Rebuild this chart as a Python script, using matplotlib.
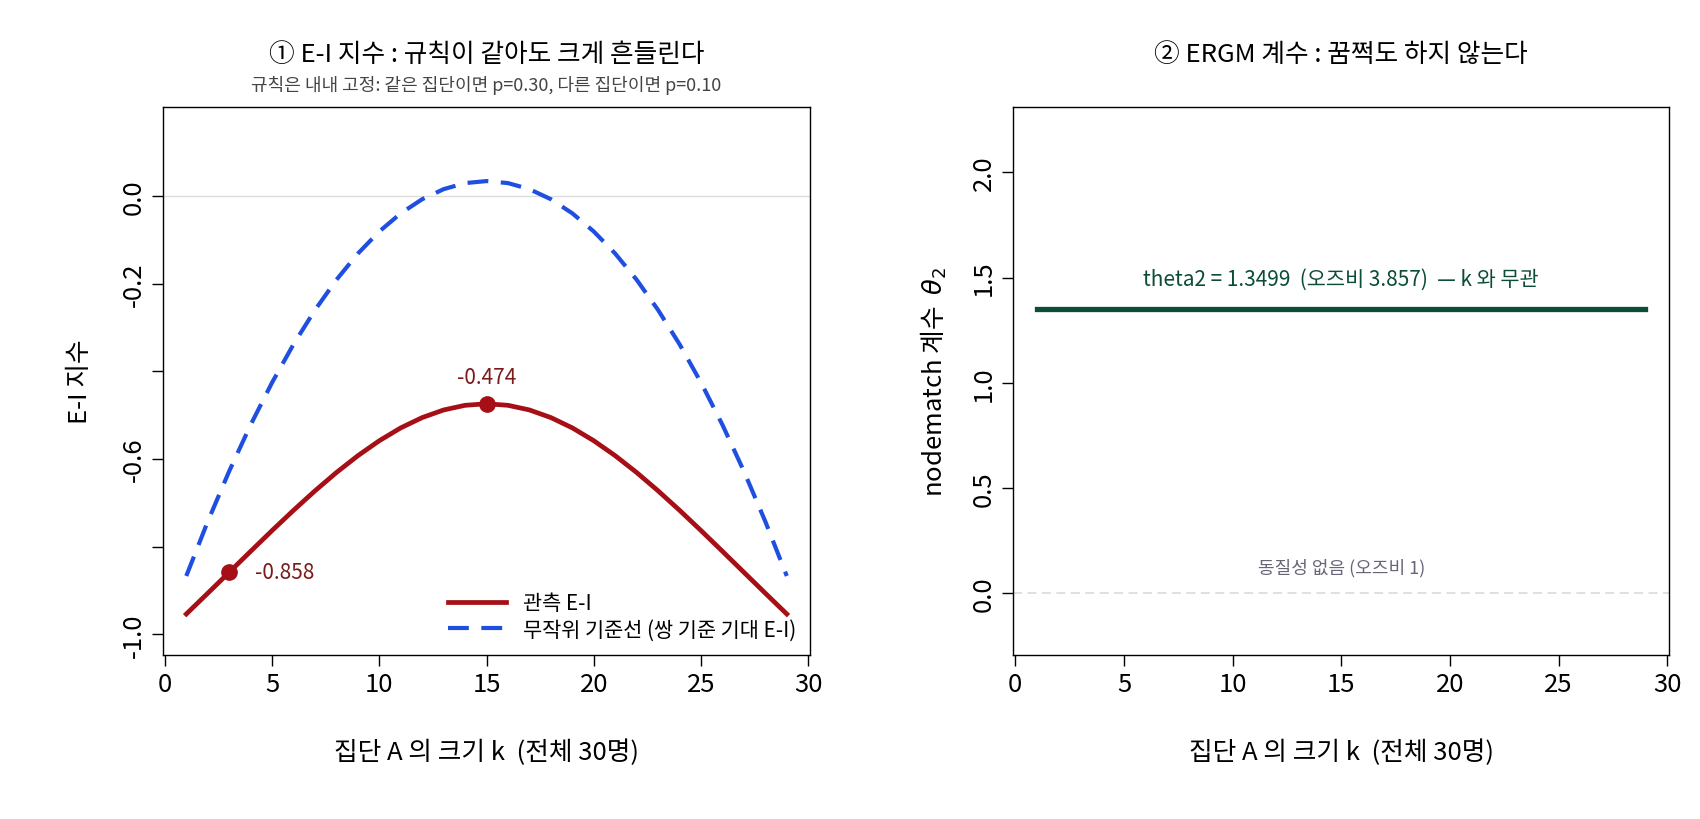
import matplotlib
matplotlib.use("Agg")
import matplotlib.pyplot as plt

plt.rcParams['font.family'] = ['Noto Sans CJK KR', 'DejaVu Sans']

k = list(range(1, 30))
half_obs = [-0.9535, -0.9061, -0.8583, -0.8104, -0.7630, -0.7168, -0.6724, -0.6306,
            -0.5922, -0.5580, -0.5287, -0.5052, -0.4878, -0.4772, -0.4737]
half_base = [-0.8667, -0.7425, -0.6276, -0.5218, -0.4253, -0.3379, -0.2598, -0.1908,
             -0.1310, -0.0805, -0.0391, -0.0069, 0.0161, 0.0299, 0.0345]
ei_obs = half_obs + half_obs[-2::-1]
ei_base = half_base + half_base[-2::-1]
theta2 = 1.3499
odds = 3.857

red = '#A50F15'
blue = '#1F4FE0'
green = '#0B4D35'

fig = plt.figure(figsize=(17, 8.2), dpi=100)
ax1 = fig.add_axes([0.0957, 0.200, 0.381, 0.668])
ax2 = fig.add_axes([0.596, 0.200, 0.386, 0.668])

for ax in (ax1, ax2):
    ax.tick_params(direction='out', length=8, labelsize=18.5, width=1)
    ax.tick_params(axis='y', labelrotation=90)
    for s in ax.spines.values():
        s.set_linewidth(1)
    ax.set_xlim(-0.1, 30.1)
    ax.set_xticks([0, 5, 10, 15, 20, 25, 30])
    ax.set_xlabel('집단 A 의 크기 k  (전체 30명)', fontsize=18.5, labelpad=30)

# panel 1
ax1.axhline(0, color='#DDDDDD', lw=1)
ax1.plot(k, ei_base, color=blue, lw=3, ls=(0, (5, 3)), label='무작위 기준선 (쌍 기준 기대 E-I)')
ax1.plot(k, ei_obs, color=red, lw=3.4, label='관측 E-I')
ax1.plot([3, 15], [ei_obs[2], ei_obs[14]], 'o', color=red, ms=11)
ax1.text(15, ei_obs[14] + 0.035, f'{ei_obs[14]:.3f}', color='#7A1A1A', ha='center', va='bottom', fontsize=15)
ax1.text(4.2, ei_obs[2], f'{ei_obs[2]:.3f}', color='#7A1A1A', ha='left', va='center', fontsize=15)
ax1.set_ylim(-1.047, 0.203)
ax1.set_yticks([-1.0, -0.8, -0.6, -0.4, -0.2, 0.0])
ax1.set_yticklabels(['-1.0', '', '-0.6', '', '-0.2', '0.0'], va='center')
ax1.set_ylabel('E-I 지수', fontsize=18.5, labelpad=20)
h, l = ax1.get_legend_handles_labels()
ax1.legend(h[::-1], l[::-1], loc='lower right', frameon=False, fontsize=15,
           handlelength=2.8, borderaxespad=0.3, labelspacing=0.2)
ax1.set_title('① E-I 지수 : 규칙이 같아도 크게 흔들린다', fontsize=18.5, pad=33)
ax1.text(0.5, 1.025, '규칙은 내내 고정: 같은 집단이면 p=0.30, 다른 집단이면 p=0.10',
         transform=ax1.transAxes, ha='center', va='bottom', fontsize=13, color='#444444')

# panel 2
ax2.axhline(0, color='#DDDDDD', lw=1.3, ls=(0, (5, 3)))
ax2.plot([k[0], k[-1]], [theta2, theta2], color=green, lw=3.8)
ax2.text(15, theta2 + 0.09, f'theta2 = {theta2:.4f}  (오즈비 {odds:.3f})  — k 와 무관',
         color=green, ha='center', va='bottom', fontsize=15)
ax2.text(15, 0.08, '동질성 없음 (오즈비 1)', color='#666677', ha='center', va='bottom', fontsize=13)
ax2.set_ylim(-0.294, 2.31)
ax2.set_yticks([0.0, 0.5, 1.0, 1.5, 2.0])
ax2.set_yticklabels(['0.0', '0.5', '1.0', '1.5', '2.0'], va='center')
ax2.set_ylabel(r'nodematch 계수  $\theta_2$', fontsize=18.5, labelpad=16)
ax2.set_title('② ERGM 계수 : 꿈쩍도 하지 않는다', fontsize=18.5, pad=33)

fig.savefig('out.png', dpi=100)
